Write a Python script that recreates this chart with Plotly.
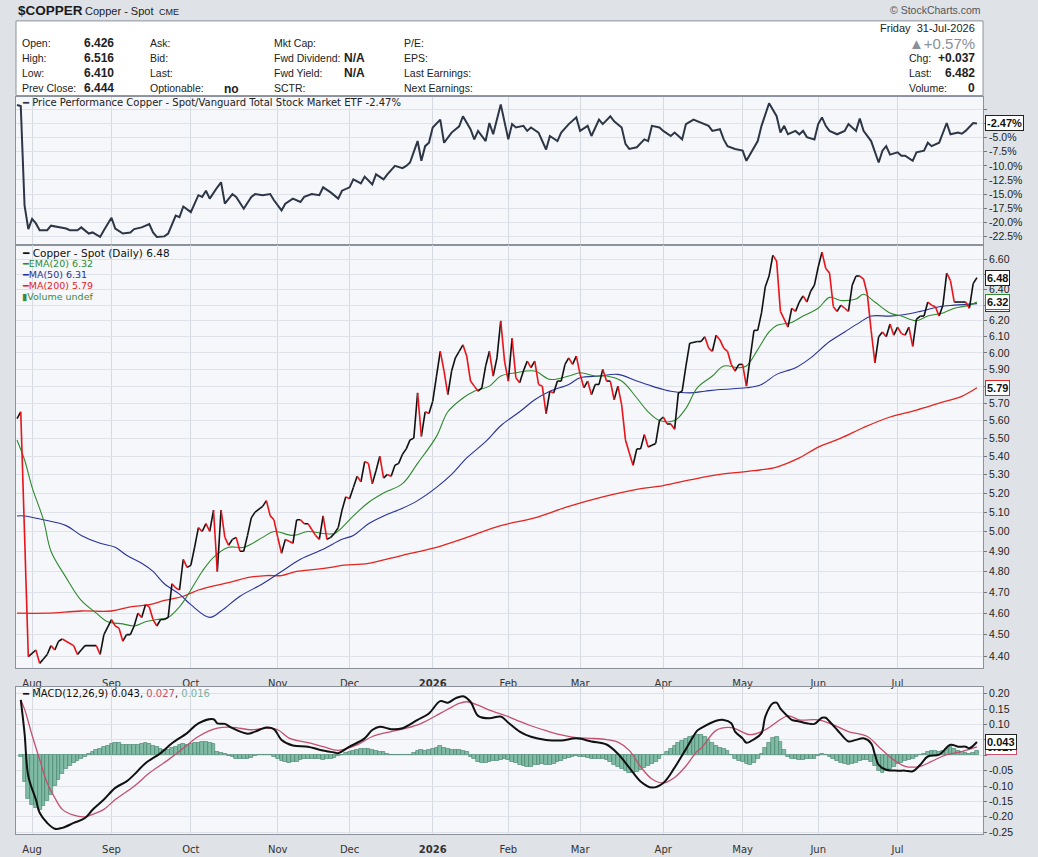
import math
import pandas as pd
import plotly.graph_objects as go

W, H = 1038, 857

# trading calendar: weekends and exchange holidays are skipped on the time axis
first_day = "2025-07-28"
last_day = "2026-07-31"
holidays = ["2025-09-01", "2025-11-27", "2025-12-25", "2026-01-01", "2026-01-19",
            "2026-02-16", "2026-04-03", "2026-05-25", "2026-06-19", "2026-07-03"]
month_labels = ["Aug", "Sep", "Oct", "Nov", "Dec", "<b>2026</b>", "Feb", "Mar", "Apr", "May", "Jun", "Jul"]

# ---- values; *_day = session number (0 = 28-Jul-2025) ----
price_day = ([0, 1, 3, 5, 6, 7, 8, 9, 10, 11, 12, 13, 15, 16, 17, 18, 21, 22, 23]
             + list(range(25, 46)) + list(range(46, 64)) + [65, 66, 67, 68]
             + list(range(69, 88)) + list(range(88, 110)) + list(range(110, 130))
             + list(range(130, 149)) + list(range(149, 162)) + list(range(163, 171))
             + list(range(171, 179)) + list(range(180, 192)) + list(range(192, 203))
             + list(range(204, 212)) + list(range(212, 233)) + list(range(233, 255)))
price_val = [5.61, 5.65, 4.40, 4.43, 4.37, 4.39, 4.41, 4.45, 4.43, 4.47, 4.48, 4.47, 4.45, 4.41, 4.43, 4.45, 4.45, 4.41, 4.50,
             # Sep
             4.57, 4.54, 4.53, 4.47, 4.50, 4.50, 4.54, 4.60, 4.58, 4.64, 4.63, 4.57, 4.54, 4.57, 4.57, 4.58, 4.74, 4.72, 4.71, 4.86, 4.82,
             # Oct
             4.83, 4.92, 5.02, 5.00, 5.04, 5.00, 5.11, 4.80, 5.11, 4.97, 4.93, 4.96, 4.97, 4.90, 4.90, 4.98, 5.07, 5.10,
             5.13, 5.16, 5.08, 5.06,
             # Nov
             4.97, 4.89, 4.96, 4.95, 4.94, 5.06, 5.06, 5.04, 5.04, 5.01, 4.98, 4.96, 5.08, 4.96, 4.97, 4.99, 5.02, 5.11, 5.18,
             # Dec
             5.17, 5.23, 5.29, 5.26, 5.37, 5.36, 5.25, 5.32, 5.40, 5.28, 5.30, 5.29, 5.35, 5.36, 5.41, 5.44, 5.49, 5.50, 5.76, 5.51, 5.65, 5.64,
             # Jan
             5.71, 5.86, 6.01, 5.89, 5.75, 5.89, 5.97, 6.01, 6.05, 5.98, 5.83, 5.80, 5.77, 5.79, 5.92, 6.01, 5.86, 5.97, 6.20, 5.95,
             # Feb
             5.83, 6.09, 5.85, 5.82, 5.89, 5.95, 5.91, 5.95, 5.81, 5.80, 5.64, 5.77, 5.76, 5.83, 5.83, 5.93, 5.97, 5.93, 5.98,
             # Mar
             5.87, 5.79, 5.83, 5.75, 5.81, 5.81, 5.90, 5.83, 5.83, 5.72, 5.80, 5.69, 5.49,
             5.35, 5.44, 5.44, 5.52, 5.45, 5.46, 5.47, 5.60,
             # Apr
             5.62, 5.58, 5.58, 5.55, 5.76, 5.77, 5.92, 6.06,
             6.07, 6.07, 6.10, 6.03, 6.01, 6.11, 6.08, 6.03, 6.01, 5.93, 5.89, 5.93,
             # May
             5.93, 5.80, 5.97, 6.14, 6.14, 6.25, 6.42, 6.49, 6.63, 6.59, 6.26,
             6.16, 6.28, 6.26, 6.32, 6.36, 6.32, 6.39, 6.43,
             # Jun
             6.55, 6.65, 6.54, 6.51, 6.29, 6.26, 6.30, 6.28, 6.26, 6.43, 6.49, 6.49, 6.47, 6.37, 6.14, 5.94, 6.10, 6.13, 6.10, 6.18, 6.11,
             # Jul
             6.16, 6.12, 6.11, 6.16, 6.04, 6.21, 6.23, 6.23, 6.32, 6.30, 6.29, 6.23, 6.30, 6.51, 6.46, 6.32, 6.32, 6.32, 6.32, 6.28, 6.44, 6.48]

ema_day = [0, 2, 4, 7, 9, 13, 17, 21, 24, 28, 31, 34, 37, 40, 43, 45, 49, 52, 56, 60,
           65, 68, 73, 77, 81, 84, 86, 89, 93, 97, 102, 106, 111, 114, 118, 121, 125, 128, 132, 137,
           141, 146, 149, 153, 156, 160, 164, 167, 170, 174, 177, 180, 184, 187, 191, 193, 196, 199, 201, 205,
           208, 212, 215, 218, 222, 224, 227, 231, 234, 238, 241, 245, 248, 252, 254]
ema_val = [5.49, 5.38, 5.23, 5.06, 4.90, 4.77, 4.66, 4.60, 4.56, 4.55, 4.54, 4.56, 4.57, 4.58, 4.63, 4.68, 4.80, 4.87, 4.92, 4.92,
           4.97, 5.00, 4.98, 5.00, 4.99, 4.99, 5.02, 5.08, 5.15, 5.20, 5.25, 5.36, 5.51, 5.65, 5.73, 5.77, 5.80, 5.86, 5.88, 5.89,
           5.84, 5.86, 5.88, 5.86, 5.86, 5.83, 5.73, 5.65, 5.60, 5.60, 5.67, 5.79, 5.86, 5.92, 5.91, 5.92, 6.02, 6.13, 6.17, 6.19,
           6.23, 6.28, 6.35, 6.33, 6.34, 6.37, 6.32, 6.25, 6.23, 6.20, 6.23, 6.25, 6.28, 6.30, 6.32]

ma50_day = [0, 2, 7, 13, 17, 22, 26, 29, 33, 36, 39, 43, 46, 51, 54, 59, 65, 70, 75, 81,
            86, 89, 93, 97, 102, 106, 111, 115, 119, 124, 128, 133, 137, 141, 146, 149, 154, 159, 164, 168,
            171, 173, 178, 182, 186, 193, 197, 201, 206, 210, 215, 219, 223, 226, 231, 235, 239, 244, 248, 254]
ma50_val = [5.08, 5.08, 5.06, 5.03, 4.98, 4.94, 4.92, 4.88, 4.84, 4.80, 4.74, 4.69, 4.64, 4.58, 4.61, 4.68, 4.74, 4.80, 4.86, 4.91,
            4.96, 4.98, 5.04, 5.08, 5.12, 5.16, 5.23, 5.30, 5.39, 5.48, 5.57, 5.65, 5.72, 5.77, 5.81, 5.85, 5.86, 5.87, 5.83, 5.80,
            5.78, 5.77, 5.76, 5.77, 5.78, 5.79, 5.81, 5.87, 5.91, 5.97, 6.07, 6.13, 6.19, 6.23, 6.23, 6.24, 6.26, 6.29, 6.30, 6.31]

ma200_day = [0, 8, 17, 25, 30, 35, 39, 44, 48, 52, 57, 61, 66, 70, 74, 79, 83, 86, 93, 102,
             111, 119, 128, 137, 146, 155, 164, 171, 178, 186, 195, 201, 207, 212, 218, 224, 231, 238, 244, 250, 254]
ma200_val = [4.60, 4.60, 4.61, 4.61, 4.63, 4.64, 4.66, 4.68, 4.71, 4.73, 4.75, 4.77, 4.78, 4.78, 4.80, 4.81, 4.82, 4.83, 4.84, 4.88,
             4.92, 4.97, 5.03, 5.07, 5.13, 5.18, 5.22, 5.24, 5.27, 5.30, 5.32, 5.34, 5.39, 5.45, 5.50, 5.56, 5.62, 5.66, 5.70, 5.74, 5.79]

# price performance vs. the total stock market ETF, in %
perf_day = [0, 1, 2, 3, 4, 5, 6, 8, 9, 11, 13, 14, 16, 17, 19, 20, 22, 23,
            25, 26, 28, 30, 31, 33, 35, 36, 37, 39, 40, 42, 43, 44,
            46, 48, 49, 50, 51, 53, 54, 55, 57, 58, 60, 62, 63, 65, 67, 68,
            70, 71, 73, 75, 76, 78, 80, 81, 83, 85, 86,
            88, 89, 91, 92, 94, 95, 97, 98, 100, 102, 103, 104, 106, 107, 108, 109,
            110, 112, 113, 115, 117, 118, 120, 121, 122, 124, 125, 126, 128,
            130, 131, 132, 134, 135, 136, 138, 140, 141, 143, 144, 146, 148,
            149, 151, 152, 154, 155, 157, 158, 160, 161, 162, 164, 166, 167, 168, 170,
            171, 173, 174, 176, 177, 179, 181, 183, 184, 186, 187, 188, 190,
            192, 193, 195, 196, 197, 199, 201, 202, 203, 204, 206, 207, 208, 209, 211,
            212, 213, 214, 215, 217, 219, 220, 222, 223, 224, 226, 228, 229, 230, 231,
            233, 234, 235, 237, 238, 240, 241, 242, 244, 246, 247, 249, 250, 251, 253, 254]
perf_val = [0.8, 0.6, -17.0, -21.2, -19.4, -20.2, -21.4, -21.4, -20.6, -20.8, -21.1, -21.4, -21.4, -20.9, -22.0, -21.8, -22.6, -21.4,
            -19.2, -21.1, -22.0, -21.8, -21.2, -20.9, -20.3, -21.8, -22.6, -22.5, -22.0, -18.8, -19.1, -17.2,
            -18.2, -15.2, -15.5, -14.4, -15.8, -13.8, -12.9, -16.7, -15.0, -15.5, -17.6, -15.5, -15.0, -15.2, -15.0, -16.1,
            -17.9, -16.7, -15.8, -16.4, -15.5, -15.0, -15.2, -13.8, -14.7, -15.8, -14.4,
            -13.8, -12.4, -13.1, -11.9, -13.3, -11.5, -12.4, -11.5, -10.0, -10.4, -10.0, -9.4, -5.6, -9.1, -6.5, -5.9,
            -3.2, -1.8, -5.9, -4.1, -3.0, -1.2, -3.5, -5.3, -3.8, -5.6, -2.4, -4.4, 0.9,
            -5.3, -2.6, -3.2, -2.9, -3.8, -3.2, -4.1, -7.1, -4.7, -5.6, -4.1, -2.6, -1.4,
            -3.8, -2.9, -4.7, -1.8, -2.6, -1.2, -2.1, -3.2, -6.1, -7.0, -6.7, -5.3, -5.6, -2.9, -3.2,
            -3.8, -4.7, -4.1, -5.3, -2.6, -1.8, -2.4, -2.9, -3.8, -3.5, -5.3, -6.5, -7.0,
            -7.3, -9.1, -6.7, -5.6, -2.9, 1.1, -1.2, -4.1, -2.9, -4.4, -3.8, -4.4, -3.8, -4.9, -5.3,
            -2.6, -1.4, -2.9, -3.8, -4.4, -3.8, -2.6, -3.8, -1.6, -3.8, -5.6, -9.4, -7.3, -6.5, -8.0,
            -7.6, -8.2, -8.2, -9.1, -7.6, -7.3, -5.9, -6.5, -5.9, -2.4, -4.4, -4.1, -4.3, -3.8, -2.4, -2.47]

# MACD(12,26,9)
macd_day = [1, 2, 3, 5, 6, 8, 10, 12, 15, 18, 20, 23, 26, 29, 31, 34, 38, 41, 45, 48,
            52, 53, 55, 57, 61, 63, 66, 68, 70, 73, 77, 80, 84, 85, 88, 92, 94, 96, 99, 102,
            106, 109, 112, 114, 116, 118, 120, 122, 125, 128, 130, 133, 136, 140, 144, 148, 152, 156, 159, 162,
            165, 168, 171, 174, 177, 180, 181, 185, 187, 189, 190, 192, 193, 195, 197, 198, 200, 201, 202, 204,
            205, 207, 209, 211, 213, 214, 215, 217, 219, 220, 222, 224, 226, 227, 228, 230, 233, 235, 237, 239,
            241, 244, 247, 249, 251, 252, 254]
macd_val = [0.180, 0.072, -0.068, -0.144, -0.187, -0.220, -0.239, -0.236, -0.220, -0.204, -0.177, -0.144, -0.106, -0.085, -0.063, -0.026, 0.007, 0.039, 0.072, 0.104,
            0.117, 0.104, 0.102, 0.088, 0.070, 0.077, 0.090, 0.085, 0.050, 0.032, 0.028, 0.018, 0.009, 0.007, 0.028, 0.055, 0.082, 0.093, 0.085, 0.088,
            0.115, 0.136, 0.176, 0.171, 0.185, 0.192, 0.174, 0.128, 0.120, 0.126, 0.106, 0.077, 0.060, 0.050, 0.048, 0.055, 0.045, 0.035, 0.005, -0.040,
            -0.085, -0.105, -0.090, -0.040, 0.020, 0.080, 0.088, 0.112, 0.115, 0.104, 0.077, 0.055, 0.041, 0.052, 0.072, 0.126, 0.169, 0.171, 0.152, 0.126,
            0.115, 0.110, 0.104, 0.102, 0.122, 0.122, 0.110, 0.083, 0.055, 0.045, 0.050, 0.055, 0.039, 0.002, -0.031, -0.047, -0.050, -0.050, -0.052, -0.031,
            -0.004, 0.002, 0.034, 0.028, 0.028, 0.023, 0.043]
sig_day = [1, 2, 4, 6, 8, 10, 12, 15, 18, 20, 23, 26, 31, 35, 40, 44, 48, 53, 57, 62,
           66, 69, 72, 77, 81, 85, 90, 94, 99, 103, 107, 112, 117, 119, 122, 125, 130, 133, 136, 140,
           144, 148, 152, 156, 159, 162, 165, 168, 171, 174, 177, 180, 181, 185, 189, 194, 198, 204, 207, 212,
           216, 220, 225, 228, 232, 235, 239, 242, 246, 250, 254]
sig_val = [0.180, 0.150, 0.065, -0.014, -0.090, -0.138, -0.176, -0.195, -0.200, -0.192, -0.176, -0.144, -0.101, -0.058, -0.015, 0.023, 0.061, 0.088, 0.091, 0.083,
           0.088, 0.083, 0.056, 0.041, 0.028, 0.016, 0.034, 0.061, 0.077, 0.088, 0.104, 0.136, 0.169, 0.174, 0.163, 0.147, 0.126, 0.110, 0.096, 0.080,
           0.066, 0.057, 0.055, 0.051, 0.043, 0.016, -0.037, -0.077, -0.090, -0.072, -0.035, 0.014, 0.022, 0.081, 0.090, 0.067, 0.083, 0.128, 0.115, 0.115,
           0.099, 0.077, 0.061, 0.028, -0.015, -0.036, -0.036, -0.020, 0.002, 0.012, 0.027]
# histogram, one bar per session starting at session 1
hist_val = [-0.005, -0.085, -0.140, -0.160, -0.172, -0.177, -0.165, -0.148, -0.130, -0.100,
            -0.080, -0.060, -0.045, -0.035, -0.026, -0.018, -0.010, -0.004, 0.004, 0.012,
            0.018, 0.021, 0.026, 0.030, 0.038, 0.040, 0.039, 0.035, 0.035, 0.033,
            0.033, 0.035, 0.037, 0.039, 0.038, 0.032, 0.026, 0.022, 0.019, 0.019,
            0.024, 0.029, 0.034, 0.038, 0.035, 0.036, 0.039, 0.041, 0.045, 0.043,
            0.040, 0.036, 0.012, 0.009, 0.004, -0.002, -0.006, -0.010, -0.012, -0.012,
            -0.010, -0.007, -0.003, 0.000, 0.002, 0.003, 0.000, -0.004, -0.010, -0.017,
            -0.021, -0.024, -0.022, -0.020, -0.016, -0.013, -0.012, -0.012, -0.013, -0.013,
            -0.014, -0.013, -0.010, -0.007, -0.003, 0.002, 0.007, 0.012, 0.015, 0.018,
            0.020, 0.022, 0.021, 0.019, 0.015, 0.012, 0.010, 0.005, 0.002, 0.000,
            0.000, 0.000, 0.001, 0.003, 0.007, 0.016, 0.017, 0.016, 0.019, 0.021,
            0.025, 0.030, 0.024, 0.020, 0.018, 0.018, 0.018, 0.016, 0.010, -0.004,
            -0.012, -0.021, -0.025, -0.024, -0.020, -0.018, -0.018, -0.015, -0.012, -0.016,
            -0.022, -0.026, -0.030, -0.035, -0.038, -0.036, -0.032, -0.030, -0.028, -0.030,
            -0.032, -0.028, -0.022, -0.018, -0.012, -0.008, -0.004, -0.002, -0.004, -0.006,
            -0.008, -0.010, -0.010, -0.010, -0.012, -0.016, -0.022, -0.030, -0.038, -0.045,
            -0.052, -0.056, -0.058, -0.055, -0.048, -0.040, -0.034, -0.028, -0.020, -0.010,
            0.000, 0.012, 0.022, 0.032, 0.040, 0.048, 0.055, 0.060, 0.064, 0.066,
            0.066, 0.060, 0.050, 0.040, 0.031, 0.025, 0.020, 0.013, 0.001, -0.010,
            -0.017, -0.022, -0.027, -0.030, -0.025, -0.010, 0.006, 0.024, 0.042, 0.058,
            0.060, 0.045, 0.018, -0.005, -0.012, -0.013, -0.015, -0.014, -0.013, -0.012,
            -0.010, -0.002, 0.006, 0.002, -0.006, -0.013, -0.019, -0.024, -0.028, -0.031,
            -0.029, -0.023, -0.018, -0.015, -0.015, -0.022, -0.035, -0.050, -0.056, -0.052,
            -0.045, -0.037, -0.029, -0.024, -0.019, -0.015, -0.010, -0.005, 0.000, 0.005,
            0.012, 0.015, 0.014, 0.012, 0.015, 0.022, 0.028, 0.022, 0.015, 0.012,
            0.009, 0.005, 0.008, 0.016]

perf_ticks = [0.0, -2.5, -5.0, -7.5, -10.0, -12.5, -15.0, -17.5, -20.0, -22.5]
price_ticks = [4.4, 4.5, 4.6, 4.7, 4.8, 4.9, 5.0, 5.1, 5.2, 5.3, 5.4, 5.5, 5.6, 5.7, 5.8, 5.9, 6.0, 6.1, 6.2, 6.3, 6.4, 6.5, 6.6]
macd_ticks = [0.20, 0.15, 0.10, 0.05, 0.00, -0.05, -0.10, -0.15, -0.20, -0.25]
hidden_ticks = [-2.5, 5.8, 6.3, 6.5, 0.05, 0.00]  # covered by the last-value tags

for a, b in [(price_day, price_val), (ema_day, ema_val), (ma50_day, ma50_val), (ma200_day, ma200_val),
             (perf_day, perf_val), (macd_day, macd_val), (sig_day, sig_val)]:
    assert len(a) == len(b), (len(a), len(b))

sessions = pd.bdate_range(first_day, last_day, freq="C", holidays=holidays) + pd.Timedelta(hours=12)
assert len(sessions) == len(hist_val) + 1


def at(days):
    return [sessions[d] for d in days]


# month gridlines at the first session of each month (first, partial month skipped)
month_first = sessions.to_series().groupby([sessions.year, sessions.month]).first().sort_values().tolist()[1:]

# price line: black when up, red when down
up_x, up_y, dn_x, dn_y = [], [], [], []
for i in range(len(price_day) - 1):
    xs = [sessions[price_day[i]], sessions[price_day[i + 1]], None]
    ys = [price_val[i], price_val[i + 1], None]
    if price_val[i + 1] >= price_val[i]:
        up_x += xs
        up_y += ys
    else:
        dn_x += xs
        dn_y += ys

GREEN, BLUE, RED = "#2f8a2f", "#28329a", "#e3241f"
SIG = "#c4506e"

fig = go.Figure()
fig.add_trace(go.Scatter(x=at(perf_day), y=perf_val, mode="lines", line=dict(color="#2c3646", width=2),
                         xaxis="x", yaxis="y"))
fig.add_trace(go.Scatter(x=at(ma200_day), y=ma200_val, mode="lines", line=dict(color=RED, width=1.3, shape="spline"),
                         xaxis="x2", yaxis="y2"))
fig.add_trace(go.Scatter(x=at(ma50_day), y=ma50_val, mode="lines", line=dict(color=BLUE, width=1.1, shape="spline"),
                         xaxis="x2", yaxis="y2"))
fig.add_trace(go.Scatter(x=at(ema_day), y=ema_val, mode="lines", line=dict(color=GREEN, width=1.1, shape="spline"),
                         xaxis="x2", yaxis="y2"))
fig.add_trace(go.Scatter(x=up_x, y=up_y, mode="lines", line=dict(color="#111111", width=1.6),
                         xaxis="x2", yaxis="y2"))
fig.add_trace(go.Scatter(x=dn_x, y=dn_y, mode="lines", line=dict(color="#e8141a", width=1.6),
                         xaxis="x2", yaxis="y2"))
fig.add_trace(go.Bar(x=list(sessions[1:]), y=hist_val, marker=dict(color="#80bba5", line=dict(color="#3f7d66", width=0.6)),
                     xaxis="x3", yaxis="y3"))
fig.add_trace(go.Scatter(x=at(sig_day), y=sig_val, mode="lines", line=dict(color=SIG, width=1.3, shape="spline"),
                         xaxis="x3", yaxis="y3"))
fig.add_trace(go.Scatter(x=at(macd_day), y=macd_val, mode="lines", line=dict(color="#111111", width=2, shape="spline"),
                         xaxis="x3", yaxis="y3"))

x_dom = [16 / W, 983 / W]
x_range = ["2025-07-28 05:45", "2026-08-04 02:30"]
xbase = dict(type="date", range=x_range, domain=x_dom,
             rangebreaks=[dict(bounds=["sat", "mon"]), dict(values=holidays)],
             tickmode="array", tickvals=month_first, ticktext=month_labels,
             showgrid=True, gridcolor="#d6dae1", gridwidth=1, zeroline=False,
             showline=True, linecolor="#8c929c", linewidth=1, mirror=True, ticks="",
             ticklabelstandoff=6,
             tickfont=dict(family="DejaVu Sans", size=10, color="#333333"))


def ybase(ticks, labels, dom, rng, kind="linear"):
    return dict(type=kind, domain=[1 - dom[1] / H, 1 - dom[0] / H], range=rng, side="right",
                tickmode="array", tickvals=ticks, ticktext=labels,
                showgrid=True, gridcolor="#dfe2e8", gridwidth=1, zeroline=False,
                showline=True, linecolor="#8c929c", linewidth=1, mirror=True,
                ticks="outside", ticklen=3, tickcolor="#777777",
                tickfont=dict(family="Liberation Sans", size=10.5, color="#222222"))


def label(v, fmt):
    return "" if any(abs(v - h) < 1e-9 for h in hidden_ticks) else fmt.format(v)


fig.update_layout(
    width=W, height=H, autosize=False, margin=dict(l=0, r=0, t=0, b=0),
    paper_bgcolor="#dfe2e7", plot_bgcolor="#f6f7fa", showlegend=False, hovermode=False,
    bargap=0,
    xaxis=dict(xbase, anchor="y", showticklabels=False),
    xaxis2=dict(xbase, anchor="y2", showticklabels=True),
    xaxis3=dict(xbase, anchor="y3", showticklabels=True),
    yaxis=dict(ybase(perf_ticks, [label(v, "{:.1f}%") for v in perf_ticks], (97, 246), [-24.0, 2.29]), anchor="x"),
    yaxis2=dict(ybase(price_ticks, [label(v, "{:.2f}") for v in price_ticks], (246, 671),
                      [math.log10(4.35), math.log10(6.70)], kind="log"), anchor="x2"),
    yaxis3=dict(ybase(macd_ticks, [label(v, "{:.2f}") for v in macd_ticks], (690, 838), [-0.2563, 0.2227]), anchor="x3"),
)

# header info box
fig.add_shape(type="rect", xref="paper", yref="paper", x0=16 / W, x1=983 / W, y0=1 - 96 / H, y1=1 - 21 / H,
              fillcolor="#ffffff", line=dict(color="#8c929c", width=1), layer="below")


def note(text, x, y, size=10.5, color="#222222", anchor="left", family="Liberation Sans"):
    return dict(text=text, x=x / W, y=1 - y / H, xref="paper", yref="paper", xanchor=anchor, yanchor="middle",
                showarrow=False, font=dict(family=family, size=size, color=color))


notes = [
    note("<b>$COPPER</b>", 16, 11, size=13.5, color="#1a1a1a"),
    note("Copper - Spot", 83, 11, size=11),
    note("CME", 157, 12, size=9),
    note("© StockCharts.com", 983, 10, size=10.5, color="#555555", anchor="right"),
    note("Friday  31-Jul-2026", 977, 28, size=11, anchor="right"),
    note("▲+0.57%", 977, 44, size=15, color="#8a9099", anchor="right"),
]
rows = [43, 58, 73, 88]
for y, t in zip(rows, ["Open:", "High:", "Low:", "Prev Close:"]):
    notes.append(note(t, 20, y))
for y, t in zip(rows, ["6.426", "6.516", "6.410", "6.444"]):
    notes.append(note(f"<b>{t}</b>", 82, y, size=12))
for y, t in zip(rows, ["Ask:", "Bid:", "Last:", "Optionable:"]):
    notes.append(note(t, 148, y))
notes.append(note("<b>no</b>", 222, 89, size=12))
for y, t in zip(rows, ["Mkt Cap:", "Fwd Dividend:", "Fwd Yield:", "SCTR:"]):
    notes.append(note(t, 272, y))
notes.append(note("<b>N/A</b>", 367, 58, size=12, anchor="right"))
notes.append(note("<b>N/A</b>", 367, 73, size=12, anchor="right"))
for y, t in zip(rows, ["P/E:", "EPS:", "Last Earnings:", "Next Earnings:"]):
    notes.append(note(t, 402, y))
for y, t, v in zip(rows[1:], ["Chg:", "Last:", "Volume:"], ["+0.037", "6.482", "0"]):
    notes.append(note(t, 907, y))
    notes.append(note(f"<b>{v}</b>", 977, y, size=12, anchor="right"))

# panel legends
mono = "DejaVu Sans"
notes += [
    note(f"<span style='color:#2c3646'>━</span> Price Performance Copper - Spot/Vanguard Total Stock Market ETF {perf_val[-1]:.2f}%",
         20, 103, size=10, family=mono),
    note(f"━ Copper - Spot (Daily) {price_val[-1]:.2f}", 20, 254, size=10.5, color="#111111", family=mono),
    note(f"━EMA(20) {ema_val[-1]:.2f}", 20, 265, size=9.5, color=GREEN, family=mono),
    note(f"━MA(50) {ma50_val[-1]:.2f}", 20, 276, size=9.5, color=BLUE, family=mono),
    note(f"━MA(200) {ma200_val[-1]:.2f}", 20, 287, size=9.5, color=RED, family=mono),
    note("▮Volume undef", 20, 298, size=9.5, color="#3c8a3c", family=mono),
    note(f"━ MACD(12,26,9) {macd_val[-1]:.3f}, <span style='color:{SIG}'>{sig_val[-1]:.3f}</span>, "
         f"<span style='color:#7fb0a0'>{hist_val[-1]:.3f}</span>", 20, 697, size=10, color="#111111", family=mono),
]


def tag(text, yref, y, border):
    return dict(text=f"<b>{text}</b>", x=985 / W, xref="paper", xanchor="left", y=y, yref=yref, yanchor="middle",
                showarrow=False, bgcolor="#ffffff", bordercolor=border, borderwidth=1, borderpad=1,
                font=dict(family="Liberation Sans", size=11, color="#111111"))


notes += [
    tag(f"{perf_val[-1]:.2f}%", "y", perf_val[-1], "#222222"),
    tag(f"{ma50_val[-1]:.2f}", "y2", math.log10(ma50_val[-1]), BLUE),
    tag(f"{ema_val[-1]:.2f}", "y2", math.log10(ema_val[-1]), GREEN),
    tag(f"{price_val[-1]:.2f}", "y2", math.log10(price_val[-1]), "#222222"),
    tag(f"{ma200_val[-1]:.2f}", "y2", math.log10(ma200_val[-1]), RED),
    tag(f"{sig_val[-1]:.3f}", "y3", sig_val[-1], SIG),
    tag(f"{macd_val[-1]:.3f}", "y3", macd_val[-1], "#222222"),
]
fig.update_layout(annotations=notes)

fig.write_html("out.html", config=dict(displayModeBar=False),
               post_script="document.body.style.margin='0px';")
